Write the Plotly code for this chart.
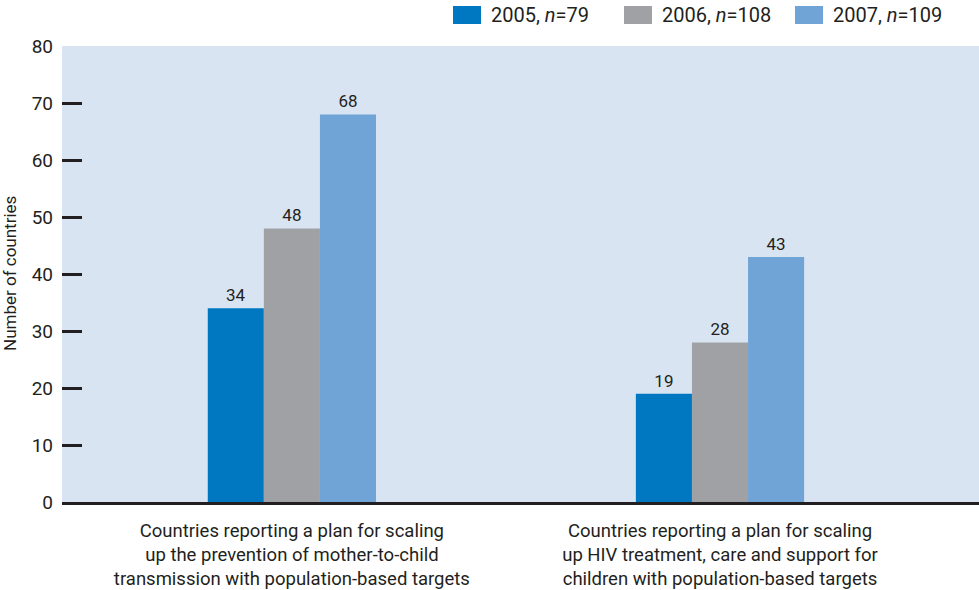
import plotly.graph_objects as go

categories = [
    "Countries reporting a plan for scaling<br>up the prevention of mother-to-child<br>transmission with population-based targets",
    "Countries reporting a plan for scaling<br>up HIV treatment, care and support for<br>children with population-based targets",
]
series_names = ["2005, <i>n</i>=79", "2006, <i>n</i>=108", "2007, <i>n</i>=109"]
values_2005 = [34, 19]
values_2006 = [48, 28]
values_2007 = [68, 43]
colors = ["#0078c1", "#a0a1a5", "#70a3d6"]
y_ticks = [0, 10, 20, 30, 40, 50, 60, 70, 80]

FONT = "Roboto, sans-serif"
TXT = "#231f20"

# pixel geometry helpers (plot area: x 62..979, y 46..502)
L, T, B, W, H = 62, 46, 88, 979, 590
PW, PH = W - L, H - T - B
def px(x):
    return (x - L) / PW
def py(y):
    return (H - B - y) / PH

fig = go.Figure()
for name, vals, col in zip(series_names, [values_2005, values_2006, values_2007], colors):
    fig.add_trace(go.Bar(
        x=[0, 1], y=vals, name=name, marker=dict(color=col, line=dict(width=0)),
        text=[str(v) for v in vals], textposition="outside",
        textfont=dict(size=17, color=TXT, family=FONT),
        cliponaxis=False, showlegend=False,
    ))

# manual legend (boxes + labels) placed above the plot area
shapes = []
annotations = []
legend_box_x = [453, 624, 795]
for name, col, bx in zip(series_names, colors, legend_box_x):
    shapes.append(dict(type="rect", xref="paper", yref="paper",
                       x0=px(bx), x1=px(bx + 28), y0=py(24), y1=py(6),
                       fillcolor=col, line=dict(width=0)))
    annotations.append(dict(text=name, xref="paper", yref="paper",
                            x=px(bx + 36), y=py(15), xanchor="left", yanchor="middle",
                            showarrow=False, font=dict(size=20, family=FONT, color=TXT)))

annotations.append(dict(text="Number of countries", xref="paper", yref="paper",
                        x=px(10), y=py(274), xanchor="center", yanchor="middle",
                        textangle=-90, showarrow=False,
                        font=dict(size=17, family=FONT, color=TXT)))

fig.update_layout(
    width=W, height=H,
    margin=dict(l=L, r=0, t=T, b=B),
    paper_bgcolor="white", plot_bgcolor="#d9e4f3",
    barmode="group", bargap=0.607, bargroupgap=0,
    font=dict(family=FONT, size=19, color=TXT),
    showlegend=False,
    xaxis=dict(tickmode="array", tickvals=[0, 1], ticktext=categories,
               range=[-0.537, 1.605], showline=True, linecolor=TXT, linewidth=3,
               ticks="", tickfont=dict(size=18.5, family=FONT, color=TXT),
               ticklabelstandoff=10, showgrid=False),
    yaxis=dict(range=[0, 80], tickmode="array", tickvals=y_ticks,
               ticks="inside", ticklen=20, tickwidth=2.5, tickcolor=TXT,
               showgrid=False, zeroline=False, showline=False,
               ticklabelstandoff=8,
               tickfont=dict(size=19, family=FONT, color=TXT)),
    shapes=shapes,
    annotations=annotations,
)
fig.write_html("out.html")
